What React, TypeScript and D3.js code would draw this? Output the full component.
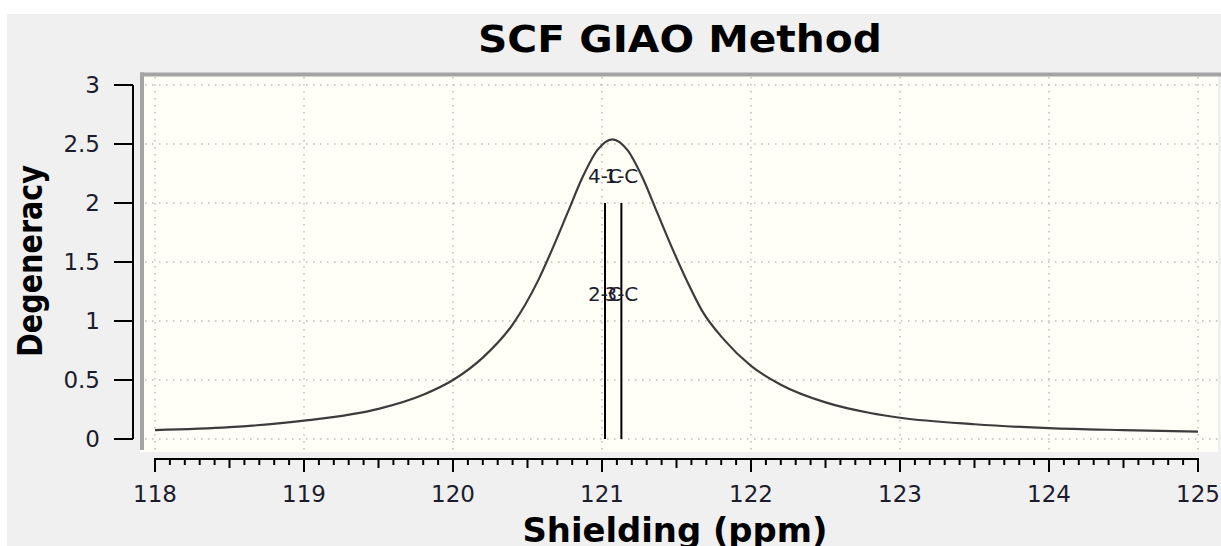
import React from 'react'
import * as d3 from 'd3'

// values
const curveX = [118, 118.5, 119, 119.5, 119.8, 120, 120.2, 120.4, 120.57, 120.67, 120.77, 120.87, 120.97, 121.07, 121.17, 121.27, 121.37, 121.47, 121.57, 121.67, 121.82, 122, 122.2, 122.5, 122.8, 123, 123.5, 124, 124.5, 125]
const curveY = [0.075, 0.1, 0.155, 0.255, 0.375, 0.5, 0.69, 0.97, 1.34, 1.62, 1.92, 2.22, 2.45, 2.54, 2.45, 2.22, 1.92, 1.62, 1.34, 1.09, 0.84, 0.62, 0.46, 0.31, 0.22, 0.18, 0.125, 0.092, 0.075, 0.062]
const stickX = [121.02, 121.13]
const stickY = [2, 2]
const stickLabels = [['2-C', '4-C'], ['3-C', '1-C']]
const xTicks = [118, 119, 120, 121, 122, 123, 124, 125]
const yTicks = [0, 0.5, 1, 1.5, 2, 2.5, 3]

const W = 1221
const H = 546
const font = '"DejaVu Sans", Verdana, sans-serif'

const App = () => {
    const x = d3.scaleLinear().domain([118, 125]).range([155, 1198])
    const y = d3.scaleLinear().domain([0, 3]).range([439, 85])

    const points = curveX.map((d, i) => [d, curveY[i]] as [number, number])
    const line = d3
        .line<[number, number]>()
        .x((d) => x(d[0]))
        .y((d) => y(d[1]))
        .curve(d3.curveMonotoneX)

    const minor = d3.range(0, 71).map((i) => 118 + i / 10)

    const plot = { left: 140, top: 73, right: 1218, bottom: 452 }

    return (
        <svg width={W} height={H} style={{ position: 'fixed', left: 0, top: 0, background: '#fff' }}>
            <rect x={7} y={14} width={W - 7} height={H - 14} fill="#f0f0f0" />

            {/* title */}
            <text x={680} y={52} textAnchor="middle" fontFamily={font} fontWeight="bold" fontSize={37}
                textLength={404} lengthAdjust="spacingAndGlyphs" fill="#000">SCF GIAO Method</text>

            {/* plot area */}
            <rect x={plot.left} y={plot.top} width={plot.right - plot.left} height={plot.bottom - plot.top} fill="#fffff7" />
            <rect x={plot.left} y={72.5} width={W - plot.left} height={4} fill="#a4a4a4" />
            <rect x={plot.left} y={72.5} width={4} height={450 - 72.5} fill="#a4a4a4" />

            {/* grid */}
            {yTicks.map((t) => (
                <line key={'gy' + t} x1={145} x2={plot.right} y1={y(t)} y2={y(t)}
                    stroke="#bdbdbd" strokeWidth={1.5} strokeDasharray="1.5,5.5" />
            ))}
            {xTicks.map((t) => (
                <line key={'gx' + t} x1={x(t)} x2={x(t)} y1={77} y2={plot.bottom}
                    stroke="#bdbdbd" strokeWidth={1.5} strokeDasharray="1.5,5.5" />
            ))}

            {/* curve */}
            <path d={line(points) || ''} fill="none" stroke="#3c3c3c" strokeWidth={2.2} />

            {/* sticks */}
            {stickX.map((sx, i) => (
                <line key={'s' + i} x1={x(sx)} x2={x(sx)} y1={y(0)} y2={y(stickY[i])} stroke="#000" strokeWidth={2} />
            ))}
            {stickX.map((sx, i) =>
                stickLabels[i].map((lab, j) => (
                    <text key={'l' + i + j} x={x(sx)} y={y(j + 1) - 20} textAnchor="middle"
                        fontFamily={font} fontSize={20} fill="#1c1c2c">{lab}</text>
                ))
            )}

            {/* y axis */}
            <line x1={133} x2={133} y1={y(3)} y2={y(0)} stroke="#000" strokeWidth={2} />
            {yTicks.map((t) => (
                <g key={'yt' + t}>
                    <line x1={114} x2={133} y1={y(t)} y2={y(t)} stroke="#000" strokeWidth={2} />
                    <text x={100} y={y(t)} dy="0.36em" textAnchor="end" fontFamily={font} fontSize={23} fill="#1c1c2c">{t}</text>
                </g>
            ))}

            {/* x axis */}
            <line x1={x(118)} x2={x(125)} y1={459} y2={459} stroke="#000" strokeWidth={2} />
            {minor.map((t, i) => {
                const len = i % 10 === 0 ? 13 : i % 5 === 0 ? 9 : 6
                return <line key={'xt' + i} x1={x(t)} x2={x(t)} y1={458} y2={459 + len} stroke="#000" strokeWidth={2} />
            })}
            {xTicks.map((t) => (
                <text key={'xl' + t} x={x(t)} y={502} textAnchor="middle" fontFamily={font} fontSize={23} fill="#1c1c2c">{t}</text>
            ))}

            {/* axis titles */}
            <text x={675} y={542} textAnchor="middle" fontFamily={font} fontWeight="bold" fontSize={34}
                textLength={305} lengthAdjust="spacingAndGlyphs" fill="#000">Shielding (ppm)</text>
            <text transform="translate(42,261) rotate(-90)" textAnchor="middle" fontFamily={font} fontWeight="bold"
                fontSize={33} textLength={192} lengthAdjust="spacingAndGlyphs" fill="#000">Degeneracy</text>
        </svg>
    )
}

export default App
